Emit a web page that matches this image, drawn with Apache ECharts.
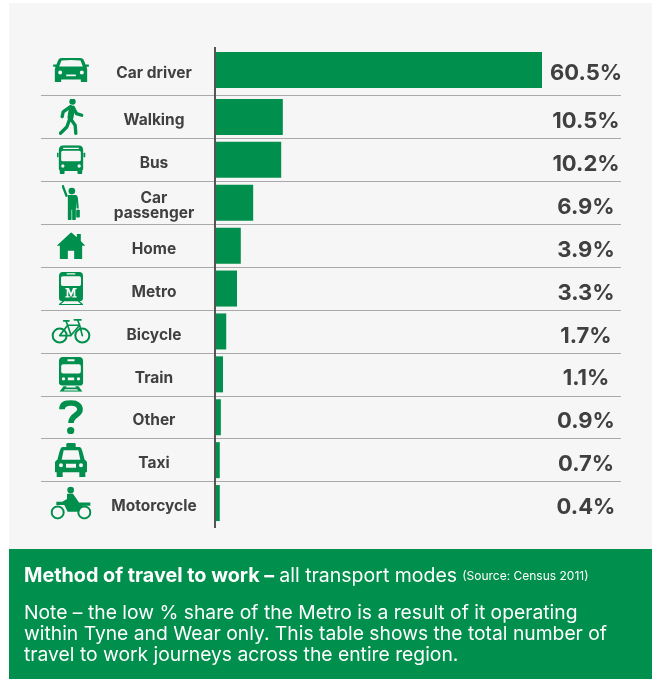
<!DOCTYPE html>
<html>
<head>
<meta charset="utf-8">
<title>Method of travel to work</title>
<script src="https://cdn.jsdelivr.net/npm/echarts@6/dist/echarts.min.js"></script>
<style>
  html, body { margin: 0; padding: 0; background: #fff; }
  #chart { width: 659px; height: 679px; }
</style>
</head>
<body>
<div id="chart"></div>
<script>
const categories = ['Car driver', 'Walking', 'Bus', 'Car\npassenger', 'Home', 'Metro', 'Bicycle', 'Train', 'Other', 'Taxi', 'Motorcycle'];
const shareLabels = ['60.5%', '10.5%', '10.2%', '6.9%', '3.9%', '3.3%', '1.7%', '1.1%', '0.9%', '0.7%', '0.4%'];
// the printed bars are not quite to scale, so lengths are read off the bars, not the labels
const barLengths = [60.5, 12.4, 12.1, 6.9, 4.6, 3.9, 1.9, 1.3, 0.9, 0.7, 0.7];

const GREEN = '#008f4c';
const INK = '#404040';
const RULE = '#a9a9a9';
const FONT = 'Inter';

const svg = (w, h, body) => 'image://data:image/svg+xml,' + encodeURIComponent(
  `<svg xmlns="http://www.w3.org/2000/svg" viewBox="0 0 ${w} ${h}" width="${w}" height="${h}" fill="${GREEN}" stroke="${GREEN}" stroke-width="0" stroke-linecap="round" stroke-linejoin="round">${body}</svg>`
);
const hole = (cx, cy, r) => `M${cx - r} ${cy}a${r} ${r} 0 1 0 ${2 * r} 0a${r} ${r} 0 1 0 ${-2 * r} 0Z`;

// icon drawings, in their own little coordinate boxes (3x the size they appear at)
const icons = [
  [109, 73, `<path fill-rule="evenodd" d="M22 1Q54-2 87 1Q92 2 95 12L98 20H108V27H101L103 34V73H84V65H25V73H6V34L8 27H1V20H11L14 12Q17 2 22 1ZM26 8L19 26H90L83 8Q54 5 26 8Z${hole(22, 44, 6)}${hole(87, 44, 6)}M40 50H69V55H40Z"/>`],
  [75, 110, `<circle cx="42" cy="9" r="9.5"/><g fill="none" stroke-width="10"><path style="stroke-width:18" d="M40 30L36 56"/><path d="M36 60L50 80L52 104M34 60L25 85L6 104M36 24L14 40L11 54M44 26L54 45L70 50"/></g>`],
  [87, 87, `<path fill-rule="evenodd" d="M22 0H65Q80 0 80 15V70Q80 77 73 77H14Q7 77 7 70V15Q7 0 22 0ZM20 7V11H67V7ZM19 16Q14 16 14 21V43Q14 48 19 48H68Q73 48 73 43V21Q73 16 68 16Z${hole(19, 62, 5)}${hole(68, 62, 5)}"/><rect x="10" y="74" width="14" height="13" rx="4"/><rect x="63" y="74" width="14" height="13" rx="4"/><rect y="22" width="6" height="14" rx="2"/><rect x="81" y="22" width="6" height="14" rx="2"/>`],
  [55, 106, `<circle cx="30" cy="18" r="10"/><path fill="none" style="stroke-width:7" d="M3 3L14 32"/><path d="M18 30H42Q47 30 48 38L51 70H46L44 50V70H42V102Q42 106 36 106Q31 106 31 102V74H29V102Q29 106 24 106Q18 106 18 102Z"/><rect x="43" y="74" width="11" height="23" rx="2"/>`],
  [85, 80, `<path fill-rule="evenodd" d="M0 40L43 0L60 15V5H72V26L85 40H76V80H52V55H33V80H9V40Z"/>`],
  [74, 100, `<path fill-rule="evenodd" d="M14 0H60Q73 0 73 12V78Q73 88 62 88H12Q1 88 1 78V12Q1 0 14 0ZM24 4V8H50V4ZM12 13Q7 13 7 18V37Q7 42 12 42H62Q67 42 67 37V18Q67 13 62 13ZM20 48V52H24V73H20V77H33V73H29V58L37 77L45 58V73H41V77H54V73H50V52H54V48H43L37 63L31 48Z"/><path fill="none" style="stroke-width:4" d="M14 88L2 98H72L60 88"/>`],
  [120, 77, `<g fill="none" style="stroke-width:6"><circle cx="26" cy="51" r="21"/><circle cx="94" cy="51" r="21"/></g><path fill="none" style="stroke-width:5" d="M26 51L50 20H86L94 51M50 20L60 50L86 20M26 51H60M80 5L86 20M70 4H90M38 7H54M45 7L50 20"/>`],
  [75, 105, `<path fill-rule="evenodd" d="M15 0H60Q74 0 74 14V76Q74 86 64 86H11Q1 86 1 76V14Q1 0 15 0ZM27 7V13H48V7ZM14 22Q8 22 8 28V44Q8 50 14 50H61Q67 50 67 44V28Q67 22 61 22ZM28 62V70H47V62Z${hole(15, 66, 5)}${hole(60, 66, 5)}"/><path fill-rule="evenodd" d="M15 88H25L22 92H53L50 88H60L72 105H3ZM19 97L16 101H59L56 97Z"/>`],
  [72, 102, `<path fill="none" style="stroke-width:17" stroke-linecap="butt" d="M9 27C9 12 22 8 36 8C52 8 63 16 63 28C63 46 36 44 36 68"/><circle cx="35" cy="91" r="11"/>`],
  [98, 103, `<rect x="35" width="28" height="14" rx="4"/><path fill-rule="evenodd" d="M24 12H74Q80 12 84 28L90 50Q98 54 98 64V85Q98 88 92 88V103H74V88H24V103H6V88Q0 88 0 85V64Q0 54 8 50L14 28Q18 12 24 12ZM27 22L21 50H77L71 22ZM34 62V74H64V62Z${hole(19, 67, 6)}${hole(79, 67, 6)}"/>`],
  [124, 100, `<g fill="none" style="stroke-width:6"><circle cx="22" cy="78" r="18"/><circle cx="102" cy="78" r="18"/></g><circle cx="61" cy="11" r="10"/><path d="M50 22L68 22L86 48H120V58H96L86 76H52L42 56H18V46H36L50 38Z"/>`]
];

// layout of the plot, in page pixels
const ROW_LEFT = 41, ROW_RIGHT = 621, ZERO_X = 216, BAR_END_X = 542;
const pxPerUnit = (BAR_END_X - ZERO_X) / barLengths[0];
const xMin = (ROW_LEFT - ZERO_X) / pxPerUnit;
const xMax = (ROW_RIGHT - ZERO_X) / pxPerUnit;
const toValue = (px) => (px - ZERO_X) / pxPerUnit;

// the first row sits a little apart, so it gets its own grid
const rowSplits = [[0, 1], [1, categories.length]];
const grid = [
  { left: ROW_LEFT, width: ROW_RIGHT - ROW_LEFT, top: 47, height: 46 },
  { left: ROW_LEFT, width: ROW_RIGHT - ROW_LEFT, top: 95.5, height: 429 }
];

// axis labels ignore a vertical nudge, so row texts ride on invisible scatter points
const textColumn = (g, texts, px, dy, font) => ({
  type: 'scatter', xAxisIndex: g, yAxisIndex: g, silent: true,
  symbolSize: 1, itemStyle: { color: 'transparent', opacity: 1 },
  data: texts.map((text, i) => ({ value: [toValue(px), i], name: text })),
  label: {
    show: true, position: 'inside', offset: [0, dy], formatter: '{b}',
    align: 'center', verticalAlign: 'middle', color: INK, fontFamily: FONT, fontWeight: 700, ...font
  }
});

const xAxis = [], yAxis = [], series = [];
rowSplits.forEach(([from, to], g) => {
  xAxis.push({ type: 'value', gridIndex: g, min: xMin, max: xMax, show: false });
  yAxis.push({
    type: 'category', gridIndex: g, inverse: true,
    data: categories.slice(from, to),
    axisLine: { show: false }, axisTick: { show: false }, axisLabel: { show: false },
    splitLine: { show: g === 1, showMaxLine: false, lineStyle: { color: RULE, width: 1 } }
  });
  series.push({
    type: 'bar', xAxisIndex: g, yAxisIndex: g, barWidth: 36, silent: true,
    itemStyle: { color: GREEN },
    data: barLengths.slice(from, to)
  });
  series.push({
    type: 'scatter', xAxisIndex: g, yAxisIndex: g, silent: true,
    itemStyle: { opacity: 1 },
    data: icons.slice(from, to).map(([w, h, body], i) => ({
      value: [toValue(71), i],
      symbol: svg(w, h, body),
      symbolSize: [w / 3, h / 3]
    }))
  });
  series.push(textColumn(g, categories.slice(from, to), 154, 3.5, { fontSize: 15.5, lineHeight: 15 }));
  series.push(textColumn(g, shareLabels.slice(from, to), 586, g ? 4.5 : 3.5, { fontSize: 22 }));
});

const myChart = echarts.init(document.getElementById('chart'));
myChart.setOption({
  animation: false,
  backgroundColor: '#fff',
  grid, xAxis, yAxis, series,
  graphic: [
    { type: 'rect', z: -10, shape: { x: 9, y: 3, width: 643, height: 546 }, style: { fill: '#f6f6f6' } },
    { type: 'rect', z: -10, shape: { x: 9, y: 549, width: 643, height: 130 }, style: { fill: GREEN } },
    { type: 'line', z: 10, shape: { x1: 215, y1: 47, x2: 215, y2: 528 }, style: { stroke: '#555', lineWidth: 2 } }
  ],
  title: [
    {
      left: 24, top: 566, padding: 0,
      text: '{b|Method of travel to work –} {r|all transport modes} {s|(Source: Census 2011)}',
      textStyle: {
        rich: {
          b: { fontFamily: FONT, fontWeight: 700, fontSize: 19.8, color: '#fff' },
          r: { fontFamily: FONT, fontWeight: 400, fontSize: 19.5, color: '#fff' },
          s: { fontFamily: FONT, fontWeight: 400, fontSize: 12, color: '#fff' }
        }
      }
    },
    {
      left: 24, top: 603, padding: 0,
      text: 'Note – the low % share of the Metro is a result of it operating\nwithin Tyne and Wear only. This table shows the total number of\ntravel to work journeys across the entire region.',
      textStyle: { fontFamily: FONT, fontWeight: 400, fontSize: 19.3, lineHeight: 21, color: '#fff' }
    }
  ]
});
</script>
</body>
</html>
